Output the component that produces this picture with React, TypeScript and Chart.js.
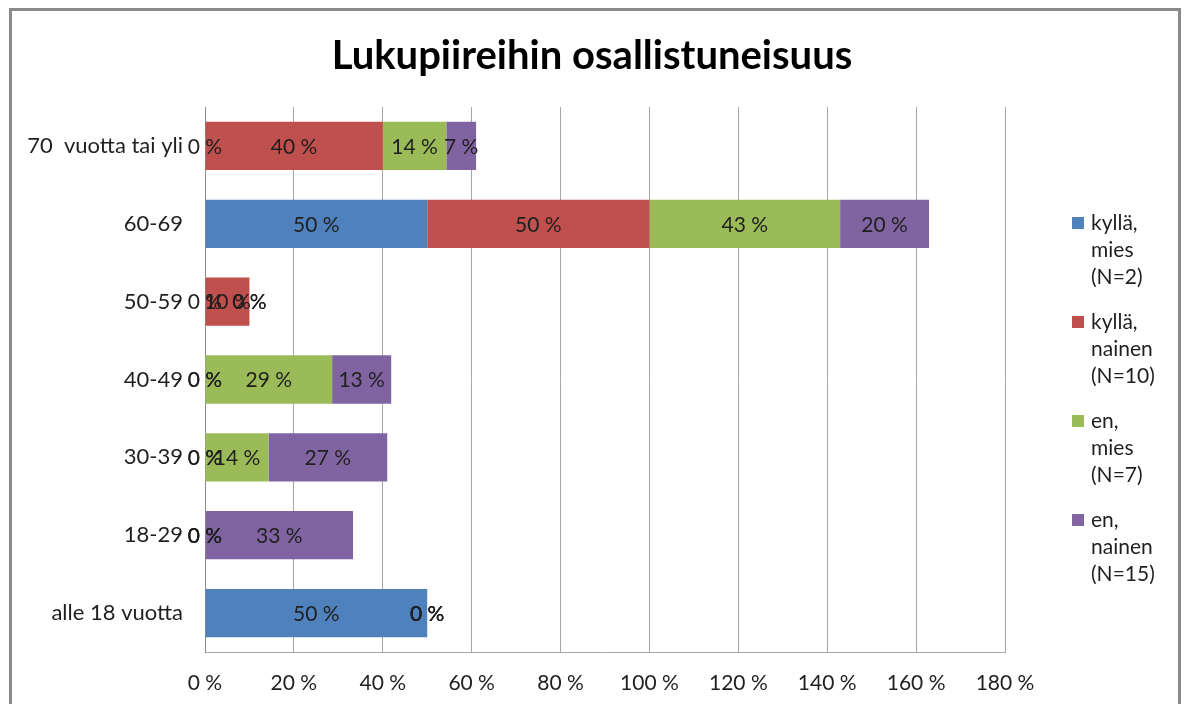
import React, { useEffect, useRef } from "react";
import { Chart, registerables } from "chart.js";

Chart.register(...registerables);

const titleText = "Lukupiireihin osallistuneisuus";
const categories = ["70  vuotta tai yli", "60-69", "50-59", "40-49", "30-39", "18-29", "alle 18 vuotta"];
const seriesLabels = [
  ["kyllä,", "mies", "(N=2)"],
  ["kyllä,", "nainen", "(N=10)"],
  ["en,", "mies", "(N=7)"],
  ["en,", "nainen", "(N=15)"],
];
const seriesColors = ["#4F81BD", "#C0504D", "#9BBB59", "#8064A2"];
const kyllaMies = [0, 50, 0, 0, 0, 0, 50];
const kyllaNainen = [40, 50, 10, 0, 0, 0, 0];
const enMies = [14.3, 42.9, 0, 28.6, 14.3, 0, 0];
const enNainen = [6.7, 20, 0, 13.3, 26.7, 33.3, 0];
const xTickValues = [0, 20, 40, 60, 80, 100, 120, 140, 160, 180];

const FONT = "Lato, 'Liberation Sans', sans-serif";
const TEXT = "#1f1f1f";

const pct = (v: number) => `${Math.round(v)} %`;

const valueLabels = {
  id: "valueLabels",
  afterDatasetsDraw(chart: any) {
    const ctx = chart.ctx;
    ctx.save();
    ctx.font = `21px ${FONT}`;
    ctx.fillStyle = TEXT;
    ctx.textAlign = "center";
    ctx.textBaseline = "middle";
    chart.data.datasets.forEach((ds: any, di: number) => {
      const meta = chart.getDatasetMeta(di);
      meta.data.forEach((el: any, i: number) => {
        const p = el.getProps(["x", "y", "base"], true);
        ctx.fillText(pct(ds.data[i]), (p.x + p.base) / 2, p.y + 1);
      });
    });
    ctx.restore();
  },
};

const titleAndLegend = {
  id: "titleAndLegend",
  afterDraw(chart: any) {
    const ctx = chart.ctx;
    ctx.save();
    ctx.fillStyle = "#000";
    ctx.font = `bold 40px ${FONT}`;
    ctx.textAlign = "center";
    ctx.textBaseline = "middle";
    ctx.fillText(titleText, 592, 56);

    ctx.font = `21px ${FONT}`;
    ctx.textAlign = "left";
    ctx.textBaseline = "middle";
    seriesLabels.forEach((lines, i) => {
      const y0 = 223 + i * 99;
      ctx.fillStyle = seriesColors[i];
      ctx.fillRect(1072, y0 - 6, 12, 12);
      ctx.fillStyle = TEXT;
      lines.forEach((t, j) => ctx.fillText(t, 1091, y0 + j * 27));
    });
    ctx.restore();
  },
};

export default function App() {
  const ref = useRef<HTMLCanvasElement | null>(null);
  useEffect(() => {
    document.body.style.margin = "0";
    if (!ref.current) return;
    const series = [kyllaMies, kyllaNainen, enMies, enNainen];
    const chart = new Chart(ref.current, {
      type: "bar",
      data: {
        labels: categories,
        datasets: series.map((d, i) => ({
          label: seriesLabels[i].join(" "),
          data: d,
          backgroundColor: seriesColors[i],
          borderWidth: 0,
          categoryPercentage: 1,
          barPercentage: 0.62,
        })),
      },
      options: {
        indexAxis: "y",
        animation: false,
        responsive: false,
        devicePixelRatio: 1,
        layout: { padding: { left: 10, right: 179, top: 107, bottom: 0 } },
        plugins: {
          legend: { display: false },
          title: { display: false },
          tooltip: { enabled: false },
        },
        scales: {
          x: {
            stacked: true,
            min: 0,
            max: 180,
            afterBuildTicks: (scale: any) => {
              scale.ticks = xTickValues.map((v) => ({ value: v }));
            },
            afterFit: (scale: any) => {
              scale.height = 52;
            },
            ticks: {
              callback: (v: any) => pct(Number(v)),
              font: { family: FONT, size: 21 },
              color: TEXT,
              padding: 19,
              maxRotation: 0,
              autoSkip: false,
            },
            grid: { color: "#a6a6a6", drawTicks: false, lineWidth: 1 },
            border: { color: "#a6a6a6", width: 1 },
          },
          y: {
            stacked: true,
            afterFit: (scale: any) => {
              scale.width = 195;
            },
            ticks: {
              font: { family: FONT, size: 22 },
              color: TEXT,
              padding: 22,
            },
            grid: { display: false, drawTicks: false },
            border: { color: "#8c8c8c", width: 1 },
          },
        },
      },
      plugins: [valueLabels, titleAndLegend],
    } as any);
    return () => chart.destroy();
  }, []);

  return (
    <div style={{ position: "relative", width: 1184, height: 704, overflow: "hidden", background: "#fff" }}>
      <canvas ref={ref} width={1184} height={704} style={{ position: "absolute", left: 0, top: 0, width: 1184, height: 704 }} />
      <div
        style={{
          position: "absolute",
          left: 9,
          top: 8,
          width: 1166,
          height: 740,
          border: "3px solid #8a8a8a",
          pointerEvents: "none",
        }}
      />
    </div>
  );
}
